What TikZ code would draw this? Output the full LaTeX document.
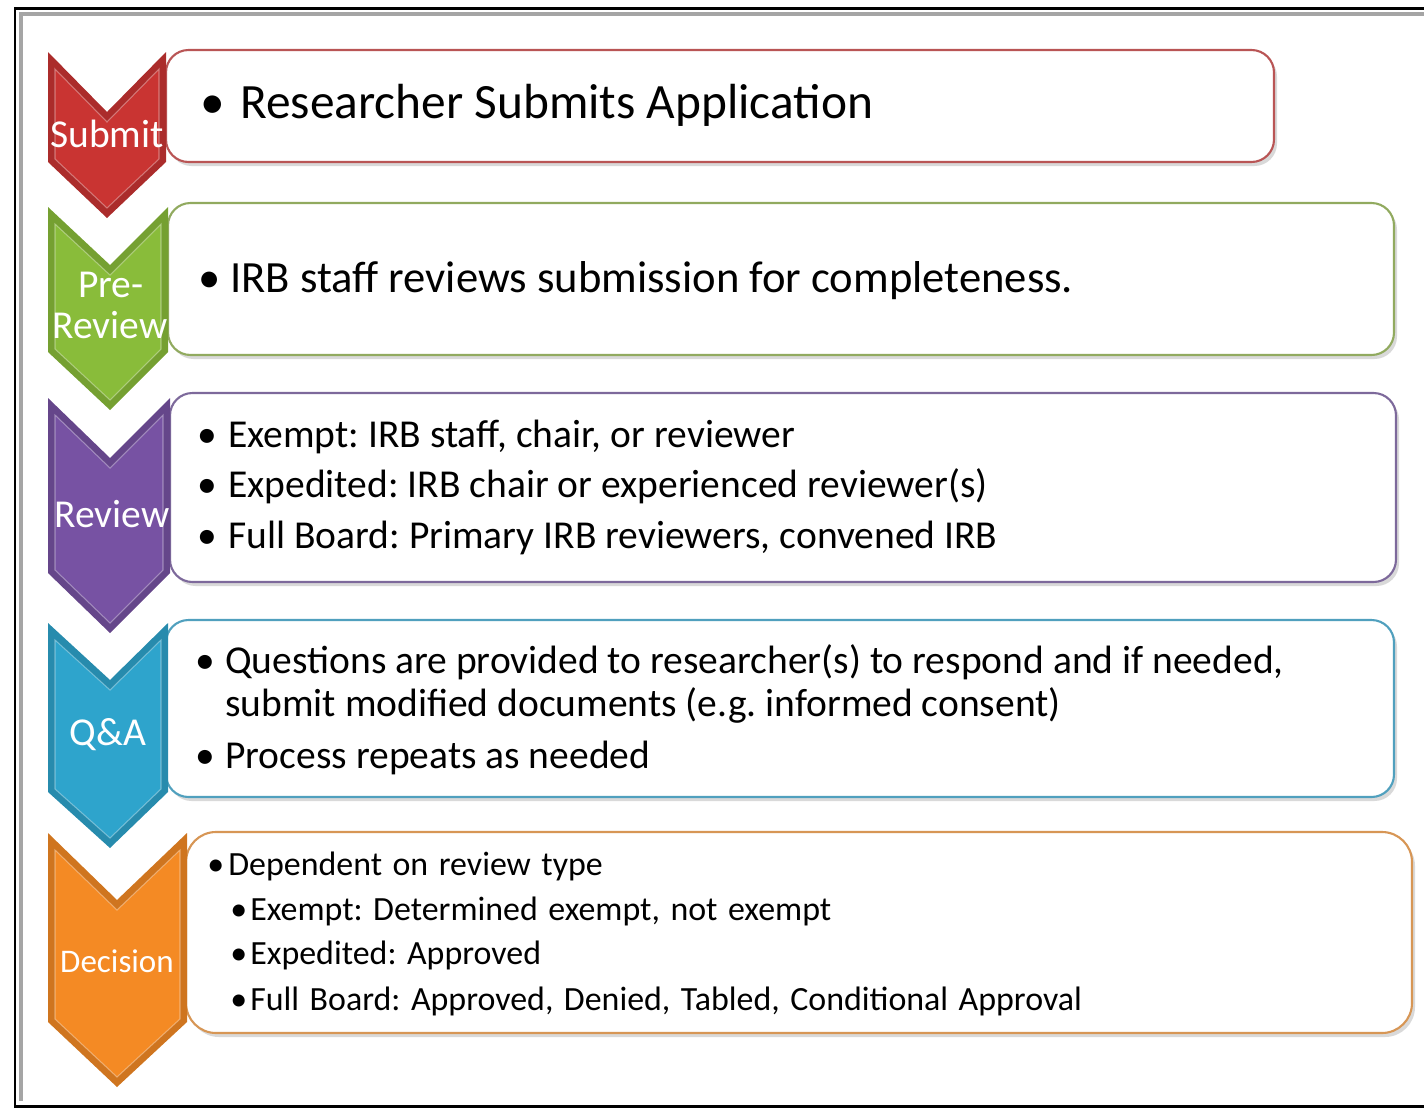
\documentclass[tikz,border=0pt]{standalone}
\usepackage{fontspec}
\setmainfont{Carlito}
\usetikzlibrary{positioning}
\frenchspacing

\definecolor{redtag}{RGB}{201,52,50}
\definecolor{greentag}{RGB}{137,188,58}
\definecolor{purpletag}{RGB}{119,82,163}
\definecolor{bluetag}{RGB}{46,164,204}
\definecolor{orangetag}{RGB}{244,138,36}
\definecolor{redline}{RGB}{185,85,85}
\definecolor{greenline}{RGB}{145,170,95}
\definecolor{purpleline}{RGB}{125,105,155}
\definecolor{blueline}{RGB}{80,160,190}
\definecolor{orangeline}{RGB}{215,150,85}
\definecolor{framegray}{RGB}{165,165,165}

\newcommand{\widespace}{\fontsize{19.3}{21}\selectfont\spaceskip=0.31em\relax}

\begin{document}
\begin{tikzpicture}[x=0.02cm,y=-0.02cm,
  box/.style={line width=1.2pt, rounded corners=0.45cm, fill=white},
  shadow/.style={fill=black, opacity=0.15, rounded corners=0.45cm},
  bevel/.style={white, opacity=0.35, line width=0.6pt},
  tag/.style={white, inner sep=0pt, anchor=base, font=\fontsize{22.5}{24}\selectfont},
  item/.style={inner sep=0pt, anchor=base west}]
\useasboundingbox (0,0) rectangle (1424,1110);

% Frame
\draw[framegray, line width=2pt] (1424,14) -- (21,14) -- (21,1101);
\draw[black, line width=1.7pt] (1424,8) -- (15,8) -- (15,1106) -- (1424,1106);

% Boxes
\fill[shadow] (169,54) rectangle (1277,166);
\draw[box, draw=redline] (166,50) rectangle (1274,162);
\fill[shadow] (171,207) rectangle (1397,359);
\draw[box, draw=greenline] (168,203) rectangle (1394,355);
\fill[shadow] (173,397) rectangle (1399,586);
\draw[box, draw=purpleline] (170,393) rectangle (1396,582);
\fill[shadow] (169,624) rectangle (1397,801);
\draw[box, draw=blueline] (166,620) rectangle (1394,797);
\fill[shadow, rounded corners=0.6cm] (189,836) rectangle (1415,1037);
\draw[box, draw=orangeline, rounded corners=0.6cm] (186,832) rectangle (1412,1033);

% Submit chevron
\fill[redtag!85!black] (48,52) -- (107,112) -- (166,52) -- (166,162) -- (107,218) -- (48,162) -- cycle;
\fill[redtag] (55,69) -- (107,122) -- (159,69) -- (159,159) -- (107,208) -- (55,159) -- cycle;
\draw[bevel] (55,69) -- (107,122) -- (159,69) -- (159,159) -- (107,208) -- (55,159) -- cycle;
\node[tag] (submit) at (107,147) {Submit};

% Pre-Review chevron
\fill[greentag!85!black] (48,207) -- (110,265) -- (168,207) -- (168,352) -- (110,410) -- (48,352) -- cycle;
\fill[greentag] (55,224) -- (110,275) -- (161,224) -- (161,349) -- (110,400) -- (55,349) -- cycle;
\draw[bevel] (55,224) -- (110,275) -- (161,224) -- (161,349) -- (110,400) -- (55,349) -- cycle;
\node[tag] (pre) at (111,297) {Pre-};
\node[tag] (prereview) at (110,338) {Review};

% Review chevron
\fill[purpletag!85!black] (48,398) -- (110,458) -- (170,398) -- (170,573) -- (110,633) -- (48,573) -- cycle;
\fill[purpletag] (55,415) -- (110,468) -- (163,415) -- (163,570) -- (110,623) -- (55,570) -- cycle;
\draw[bevel] (55,415) -- (110,468) -- (163,415) -- (163,570) -- (110,623) -- (55,570) -- cycle;
\node[tag] (review) at (112,527) {Review};

% Q&A chevron
\fill[bluetag!85!black] (48,623) -- (110,680) -- (168,623) -- (168,792) -- (110,848) -- (48,792) -- cycle;
\fill[bluetag] (55,640) -- (110,690) -- (161,640) -- (161,789) -- (110,838) -- (55,789) -- cycle;
\draw[bevel] (55,640) -- (110,690) -- (161,640) -- (161,789) -- (110,838) -- (55,789) -- cycle;
\node[tag] (qa) at (108,745) {Q\&A};

% Decision chevron
\fill[orangetag!85!black] (48,833) -- (117,900) -- (187,833) -- (187,1022) -- (117,1087) -- (48,1022) -- cycle;
\fill[orangetag] (55,850) -- (117,910) -- (180,850) -- (180,1019) -- (117,1077) -- (55,1019) -- cycle;
\draw[bevel] (55,850) -- (117,910) -- (180,850) -- (180,1019) -- (117,1077) -- (55,1019) -- cycle;
\node[tag, font=\fontsize{18.8}{20}\selectfont] (decision) at (117,972) {Decision};

% Texts
\node[item, font=\fontsize{28.1}{30}\selectfont] (sub1) at (200,118)
  {\makebox[8mm][l]{\textbullet}Researcher Submits Application};
\node[item, font=\fontsize{25.4}{27}\selectfont] (pre1) at (198,292)
  {\makebox[6.4mm][l]{\textbullet}IRB staff reviews submission for completeness.};
\node[item, font=\fontsize{22.5}{24}\selectfont] (rev1) at (197,447)
  {\makebox[6.2mm][l]{\textbullet}Exempt: IRB staff, chair, or reviewer};
\node[item, font=\fontsize{22.5}{24}\selectfont] (rev2) at (197,497)
  {\makebox[6.2mm][l]{\textbullet}Expedited: IRB chair or experienced reviewer(s)};
\node[item, font=\fontsize{22.5}{24}\selectfont] (rev3) at (197,548)
  {\makebox[6.2mm][l]{\textbullet}Full Board: Primary IRB reviewers, convened IRB};
\node[item, font=\fontsize{22.5}{24}\selectfont] (qa1) at (195,673)
  {\makebox[6mm][l]{\textbullet}Questions are provided to researcher(s) to respond and if needed,};
\node[item, font=\fontsize{22.5}{24}\selectfont] (qa2) at (225,716)
  {submit modified documents (e.g. informed consent)};
\node[item, font=\fontsize{22.5}{24}\selectfont] (qa3) at (195,768)
  {\makebox[6mm][l]{\textbullet}Process repeats as needed};
\node[item, font=\widespace] (dec1) at (207,875)
  {\makebox[4.2mm][l]{\textbullet}Dependent on review type};
\node[item, font=\widespace] (dec2) at (230,920)
  {\makebox[4mm][l]{\textbullet}Exempt: Determined exempt, not exempt};
\node[item, font=\widespace] (dec3) at (230,964)
  {\makebox[4mm][l]{\textbullet}Expedited: Approved};
\node[item, font=\widespace] (dec4) at (230,1010)
  {\makebox[4mm][l]{\textbullet}Full Board: Approved, Denied, Tabled, Conditional Approval};
\end{tikzpicture}
\end{document}
